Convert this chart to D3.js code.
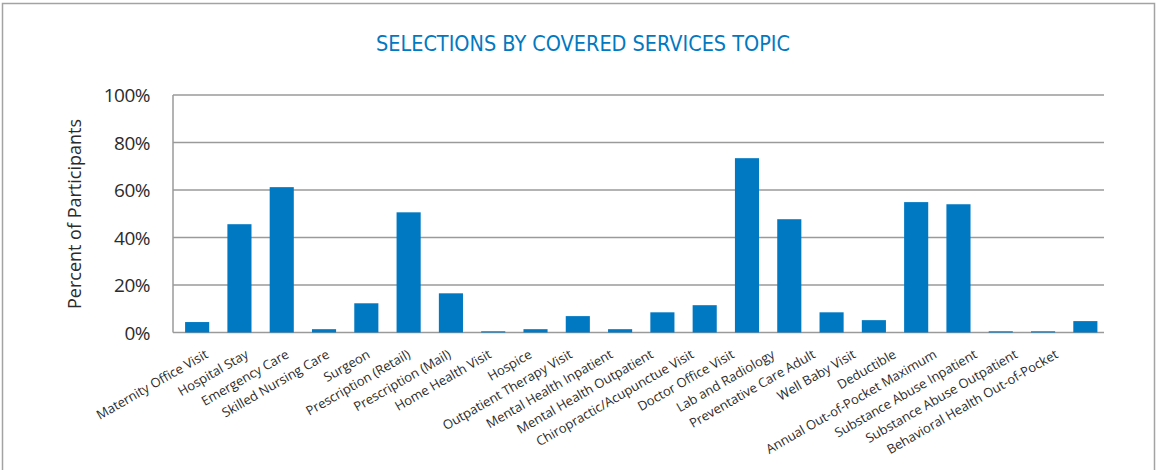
<!DOCTYPE html>
<html>
<head>
<meta charset="utf-8">
<script src="https://cdn.jsdelivr.net/npm/d3@7"></script>
<style>
  html, body { margin: 0; padding: 0; background: #fff; }
  svg { display: block; }
  text { font-family: "Liberation Sans Narrow", "DejaVu Sans Condensed", "Open Sans", sans-serif; }
</style>
</head>
<body>
<svg id="chart" width="1161" height="470"></svg>
<script>
// Share of participants selecting each covered-services topic
const categories = [
  "Maternity Office Visit", "Hospital Stay", "Emergency Care", "Skilled Nursing Care",
  "Surgeon", "Prescription (Retail)", "Prescription (Mail)", "Home Health Visit",
  "Hospice", "Outpatient Therapy Visit", "Mental Health Inpatient", "Mental Health Outpatient",
  "Chiropractic/Acupunctue Visit", "Doctor Office Visit", "Lab and Radiology",
  "Preventative Care Adult", "Well Baby Visit", "Deductible", "Annual Out-of-Pocket Maximum",
  "Substance Abuse Inpatient", "Substance Abuse Outpatient", "Behavioral Health Out-of-Pocket"
];
const percents = [
  4.4, 45.6, 61.2, 1.4,
  12.3, 50.6, 16.5, 0.5,
  1.4, 6.9, 1.4, 8.5,
  11.5, 73.4, 47.7,
  8.5, 5.2, 54.9, 54.0,
  0.5, 0.5, 4.8
];
const yTicks = [0, 20, 40, 60, 80, 100];
const title = "SELECTIONS BY COVERED SERVICES TOPIC";
const yTitle = "Percent of Participants";

const svg = d3.select("#chart");
const blue = "#0079c2";

// outer frame
svg.append("rect")
  .attr("x", 2.5).attr("y", 3.5).attr("width", 1152).attr("height", 480)
  .attr("fill", "none").attr("stroke", "#a3a3a3").attr("stroke-width", 1.5);

svg.append("text")
  .attr("x", 583).attr("y", 51)
  .attr("text-anchor", "middle")
  .attr("fill", blue)
  .attr("font-size", 21)
  .attr("textLength", 414)
  .attr("lengthAdjust", "spacingAndGlyphs")
  .text(title);

const plotLeft = 173, plotRight = 1104;
const y = d3.scaleLinear().domain([0, 100]).range([332.5, 95]);
const x = d3.scaleBand().domain(categories).range([176, 1106.5]).paddingInner(0.43).paddingOuter(0.215);

// horizontal gridlines
svg.append("g").selectAll("line").data(yTicks).join("line")
  .attr("x1", plotLeft).attr("x2", plotRight)
  .attr("y1", d => y(d)).attr("y2", d => y(d))
  .attr("stroke", "#9a9a9a").attr("stroke-width", 1.5);

// left axis line
svg.append("line")
  .attr("x1", plotLeft).attr("x2", plotLeft)
  .attr("y1", y(100)).attr("y2", y(0))
  .attr("stroke", "#9a9a9a").attr("stroke-width", 1.5);

// y tick labels
const yAxis = d3.axisLeft(y).tickValues(yTicks).tickFormat(d => d + "%").tickSize(0).tickPadding(0);
const yg = svg.append("g").attr("transform", `translate(150,0)`).call(yAxis);
yg.select(".domain").remove();
yg.selectAll("text")
  .attr("font-size", 19)
  .attr("fill", "#2b2b2b")
  .attr("dy", "0.36em")
  .style("font-family", "'Open Sans', sans-serif")
  .attr("letter-spacing", "-0.5");

svg.append("text")
  .attr("transform", "translate(81,214) rotate(-90)")
  .attr("text-anchor", "middle")
  .attr("font-size", 18)
  .attr("fill", "#2b2b2b")
  .style("font-family", "'Open Sans', sans-serif")
  .text(yTitle);

// bars
svg.append("g").selectAll("rect").data(categories).join("rect")
  .attr("x", d => x(d))
  .attr("width", x.bandwidth())
  .attr("y", (d, i) => y(percents[i]))
  .attr("height", (d, i) => y(0) - y(percents[i]))
  .attr("fill", blue);

// slanted category labels
const lx = d3.scalePoint().domain(categories).range([209, 1059]);
svg.append("g").selectAll("text").data(categories).join("text")
  .attr("transform", d => `translate(${lx(d)},357) rotate(-30)`)
  .attr("text-anchor", "end")
  .attr("font-size", 13)
  .attr("fill", "#2b2b2b")
  .style("font-family", "'Open Sans', sans-serif")
  .text(d => d);
</script>
</body>
</html>
